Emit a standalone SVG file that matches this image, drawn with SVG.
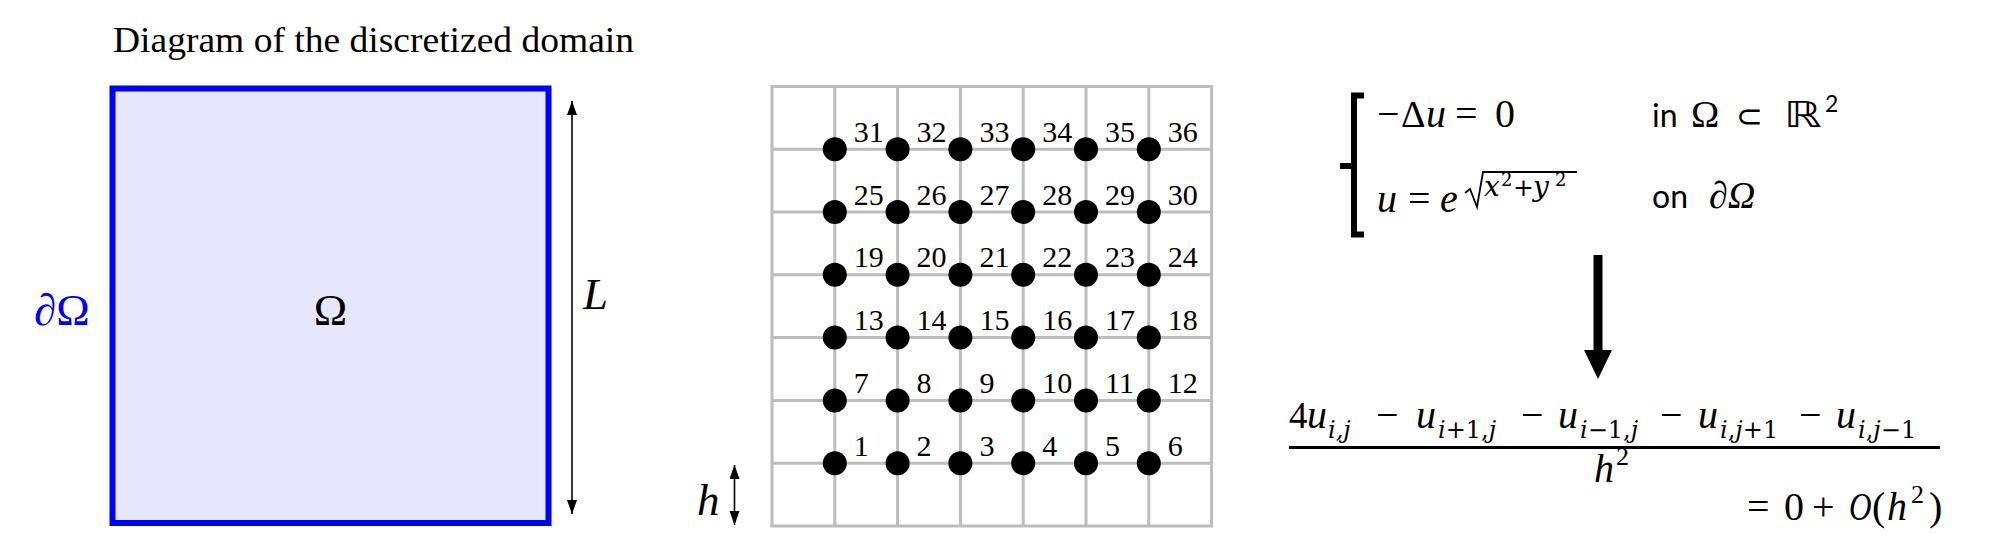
<svg xmlns="http://www.w3.org/2000/svg" width="2000" height="557" viewBox="0 0 2000 557">
<style>
.serif{font-family:"Liberation Serif","DejaVu Serif",serif;fill:#000}
.dj{font-family:"DejaVu Serif","Liberation Serif",serif;fill:#000}
.it{font-style:italic}
.sans{font-family:"Lato","Liberation Sans",sans-serif;fill:#000}
.sym{font-family:"DejaVu Sans",sans-serif;fill:#000}
.grid line{stroke:#bdbdbd;stroke-width:3}
.node circle{fill:#000}
.node text{font-family:"Liberation Serif","DejaVu Serif",serif;font-size:30px;fill:#000}
.dim{stroke:#000;stroke-width:1.6;fill:none}
.m{font-size:40px}
.sub{font-size:24px}
</style>
<defs>
<marker id="ah" markerUnits="userSpaceOnUse" markerWidth="16" markerHeight="12" refX="14" refY="5" orient="auto-start-reverse">
<path d="M0,0 L14,5 L0,10 z" fill="#000"/>
</marker>
</defs>

<rect width="2000" height="557" fill="#fff"/>

<text class="serif" x="113" y="52" font-size="35" textLength="521" lengthAdjust="spacingAndGlyphs">Diagram of the discretized domain</text>

<g id="domain">
<rect x="112.5" y="88.5" width="436" height="434.5" fill="#e6e6ff" stroke="#0000ff" stroke-width="6"/>
<text class="serif" x="330.5" y="325" font-size="45" text-anchor="middle">Ω</text>
</g>
<text class="serif" x="34" y="325" font-size="45" style="fill:#0000ff">∂Ω</text>
<text class="serif it" x="583" y="309" font-size="45">L</text>
<text class="serif it" x="697" y="515" font-size="45">h</text>

<g class="grid">
<line x1="772" y1="86.4" x2="772" y2="526"/>
<line x1="834.8" y1="86.4" x2="834.8" y2="526"/>
<line x1="897.6" y1="86.4" x2="897.6" y2="526"/>
<line x1="960.4" y1="86.4" x2="960.4" y2="526"/>
<line x1="1023.2" y1="86.4" x2="1023.2" y2="526"/>
<line x1="1086" y1="86.4" x2="1086" y2="526"/>
<line x1="1148.8" y1="86.4" x2="1148.8" y2="526"/>
<line x1="1211.6" y1="86.4" x2="1211.6" y2="526"/>
<line x1="770.5" y1="86.4" x2="1213.1" y2="86.4"/>
<line x1="772" y1="149.2" x2="1211.6" y2="149.2"/>
<line x1="772" y1="212" x2="1211.6" y2="212"/>
<line x1="772" y1="274.8" x2="1211.6" y2="274.8"/>
<line x1="772" y1="337.6" x2="1211.6" y2="337.6"/>
<line x1="772" y1="400.4" x2="1211.6" y2="400.4"/>
<line x1="772" y1="463.2" x2="1211.6" y2="463.2"/>
<line x1="770.5" y1="526" x2="1213.1" y2="526"/>
</g>

<g id="nodes">
<g id="node-1" class="node"><circle cx="834.8" cy="463.2" r="12"/><text x="853.8" y="455.7">1</text></g>
<g id="node-2" class="node"><circle cx="897.6" cy="463.2" r="12"/><text x="916.6" y="455.7">2</text></g>
<g id="node-3" class="node"><circle cx="960.4" cy="463.2" r="12"/><text x="979.4" y="455.7">3</text></g>
<g id="node-4" class="node"><circle cx="1023.2" cy="463.2" r="12"/><text x="1042.2" y="455.7">4</text></g>
<g id="node-5" class="node"><circle cx="1086" cy="463.2" r="12"/><text x="1105" y="455.7">5</text></g>
<g id="node-6" class="node"><circle cx="1148.8" cy="463.2" r="12"/><text x="1167.8" y="455.7">6</text></g>
<g id="node-7" class="node"><circle cx="834.8" cy="400.4" r="12"/><text x="853.8" y="392.9">7</text></g>
<g id="node-8" class="node"><circle cx="897.6" cy="400.4" r="12"/><text x="916.6" y="392.9">8</text></g>
<g id="node-9" class="node"><circle cx="960.4" cy="400.4" r="12"/><text x="979.4" y="392.9">9</text></g>
<g id="node-10" class="node"><circle cx="1023.2" cy="400.4" r="12"/><text x="1042.2" y="392.9">10</text></g>
<g id="node-11" class="node"><circle cx="1086" cy="400.4" r="12"/><text x="1105" y="392.9">11</text></g>
<g id="node-12" class="node"><circle cx="1148.8" cy="400.4" r="12"/><text x="1167.8" y="392.9">12</text></g>
<g id="node-13" class="node"><circle cx="834.8" cy="337.6" r="12"/><text x="853.8" y="330.1">13</text></g>
<g id="node-14" class="node"><circle cx="897.6" cy="337.6" r="12"/><text x="916.6" y="330.1">14</text></g>
<g id="node-15" class="node"><circle cx="960.4" cy="337.6" r="12"/><text x="979.4" y="330.1">15</text></g>
<g id="node-16" class="node"><circle cx="1023.2" cy="337.6" r="12"/><text x="1042.2" y="330.1">16</text></g>
<g id="node-17" class="node"><circle cx="1086" cy="337.6" r="12"/><text x="1105" y="330.1">17</text></g>
<g id="node-18" class="node"><circle cx="1148.8" cy="337.6" r="12"/><text x="1167.8" y="330.1">18</text></g>
<g id="node-19" class="node"><circle cx="834.8" cy="274.8" r="12"/><text x="853.8" y="267.3">19</text></g>
<g id="node-20" class="node"><circle cx="897.6" cy="274.8" r="12"/><text x="916.6" y="267.3">20</text></g>
<g id="node-21" class="node"><circle cx="960.4" cy="274.8" r="12"/><text x="979.4" y="267.3">21</text></g>
<g id="node-22" class="node"><circle cx="1023.2" cy="274.8" r="12"/><text x="1042.2" y="267.3">22</text></g>
<g id="node-23" class="node"><circle cx="1086" cy="274.8" r="12"/><text x="1105" y="267.3">23</text></g>
<g id="node-24" class="node"><circle cx="1148.8" cy="274.8" r="12"/><text x="1167.8" y="267.3">24</text></g>
<g id="node-25" class="node"><circle cx="834.8" cy="212" r="12"/><text x="853.8" y="204.5">25</text></g>
<g id="node-26" class="node"><circle cx="897.6" cy="212" r="12"/><text x="916.6" y="204.5">26</text></g>
<g id="node-27" class="node"><circle cx="960.4" cy="212" r="12"/><text x="979.4" y="204.5">27</text></g>
<g id="node-28" class="node"><circle cx="1023.2" cy="212" r="12"/><text x="1042.2" y="204.5">28</text></g>
<g id="node-29" class="node"><circle cx="1086" cy="212" r="12"/><text x="1105" y="204.5">29</text></g>
<g id="node-30" class="node"><circle cx="1148.8" cy="212" r="12"/><text x="1167.8" y="204.5">30</text></g>
<g id="node-31" class="node"><circle cx="834.8" cy="149.2" r="12"/><text x="853.8" y="141.7">31</text></g>
<g id="node-32" class="node"><circle cx="897.6" cy="149.2" r="12"/><text x="916.6" y="141.7">32</text></g>
<g id="node-33" class="node"><circle cx="960.4" cy="149.2" r="12"/><text x="979.4" y="141.7">33</text></g>
<g id="node-34" class="node"><circle cx="1023.2" cy="149.2" r="12"/><text x="1042.2" y="141.7">34</text></g>
<g id="node-35" class="node"><circle cx="1086" cy="149.2" r="12"/><text x="1105" y="141.7">35</text></g>
<g id="node-36" class="node"><circle cx="1148.8" cy="149.2" r="12"/><text x="1167.8" y="141.7">36</text></g>
</g>

<g id="pde">
<path d="M1364,95.5 L1354,95.5 L1354,234.5 L1364,234.5 M1354,166 L1340,166" fill="none" stroke="#000" stroke-width="6"/>
<text class="serif m"><tspan x="1377" y="127">−</tspan><tspan x="1401" y="127" font-size="38">Δ</tspan><tspan x="1426" y="127" class="it">u</tspan><tspan x="1455" y="127">=</tspan><tspan x="1495" y="127">0</tspan></text>
<text class="sans" x="1652" y="127" font-size="32">in</text>
<text class="serif" x="1691" y="127" font-size="38">Ω</text>
<text class="sym" x="1736" y="127" font-size="32">⊂</text>
<text class="sym" x="1784" y="127" font-size="36" textLength="38" lengthAdjust="spacingAndGlyphs">ℝ</text>
<text class="sans" x="1825" y="112" font-size="23">2</text>
<text class="serif m"><tspan x="1377" y="212" class="it">u</tspan><tspan x="1408" y="212">=</tspan><tspan x="1440" y="212" class="it">e</tspan></text>
<path d="M1465,193 L1470,189 L1477,207 L1483,172 L1577,172" fill="none" stroke="#000" stroke-width="1.8"/>
<text class="dj"><tspan x="1484" y="196" class="it" font-size="28">x</tspan><tspan x="1501" y="186" font-size="18">2</tspan><tspan x="1513" y="196" font-size="25">+</tspan><tspan x="1533" y="196" class="it" font-size="28">y</tspan><tspan x="1555" y="186" font-size="18">2</tspan></text>
<text class="sans" x="1652" y="208" font-size="32">on</text>
<text class="serif it" x="1709" y="208" font-size="38">∂Ω</text>
</g>

<g id="scheme">
<text class="serif" x="1289" y="428" font-size="37">4</text>
<text class="serif m it" x="1307" y="428">u</text>
<text class="dj sub it" x="1328" y="438">i,j</text>
<text class="serif m" x="1376" y="428">−</text>
<text class="serif m it" x="1416" y="428">u</text>
<text class="dj sub" x="1438" y="438"><tspan class="it">i</tspan>+1,<tspan class="it">j</tspan></text>
<text class="serif m" x="1521" y="428">−</text>
<text class="serif m it" x="1558" y="428">u</text>
<text class="dj sub" x="1580" y="438"><tspan class="it">i</tspan>−1,<tspan class="it">j</tspan></text>
<text class="serif m" x="1660" y="428">−</text>
<text class="serif m it" x="1698" y="428">u</text>
<text class="dj sub" x="1720" y="438"><tspan class="it">i</tspan>,<tspan class="it">j</tspan>+1</text>
<text class="serif m" x="1799" y="428">−</text>
<text class="serif m it" x="1836" y="428">u</text>
<text class="dj sub" x="1858" y="438"><tspan class="it">i</tspan>,<tspan class="it">j</tspan>−1</text>
<line x1="1289" y1="447.5" x2="1940" y2="447.5" stroke="#000" stroke-width="3"/>
<text class="serif m it" x="1594" y="482">h</text>
<text class="serif" x="1616" y="465" font-size="26">2</text>
<text class="serif m"><tspan x="1747" y="520">=</tspan><tspan x="1784" y="520">0</tspan><tspan x="1812" y="520">+</tspan></text>
<text class="serif m it" transform="translate(1849,520) scale(0.78,1)">O</text>
<text class="serif m"><tspan x="1872" y="520">(</tspan><tspan x="1887" y="520" class="it">h</tspan></text>
<text class="serif" x="1911" y="503" font-size="26">2</text>
<text class="serif m" x="1929" y="520">)</text>
</g>

<g id="connectors">
<line class="dim" x1="572" y1="101" x2="572" y2="514" marker-start="url(#ah)" marker-end="url(#ah)"/>
<line class="dim" x1="734.5" y1="465" x2="734.5" y2="525" marker-start="url(#ah)" marker-end="url(#ah)"/>
<line x1="1598" y1="255" x2="1598" y2="352" stroke="#000" stroke-width="9"/>
<polygon points="1584,350 1612,350 1598,379" fill="#000"/>
</g>
</svg>
